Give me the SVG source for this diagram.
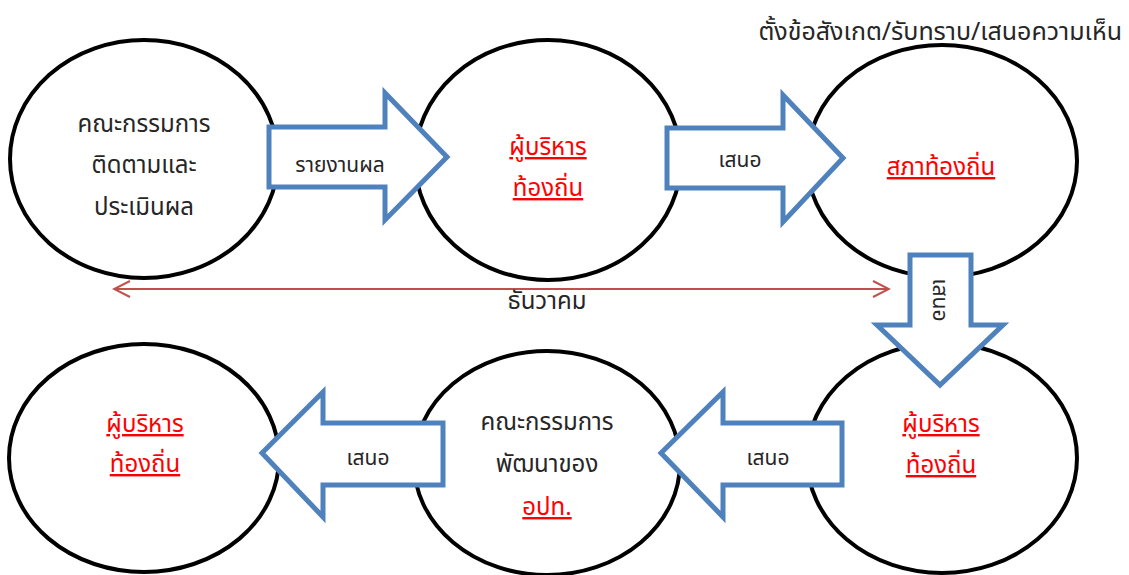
<svg xmlns="http://www.w3.org/2000/svg" width="1129" height="575" viewBox="0 0 1129 575">
<style>
.node ellipse{fill:#fff;stroke:#000;stroke-width:4}
.arrow{fill:#fff;stroke:#4F81BD;stroke-width:5;stroke-linejoin:miter}
text{font-family:"Tahoma","Leelawadee UI","Noto Sans Thai","Noto Sans",sans-serif;text-anchor:middle}
.t{font-size:24px;fill:#262626}
.r{font-size:24px;fill:#FF0000;text-decoration:underline}
.s{font-size:21px;fill:#262626}
</style>
<defs>
<marker id="chev" viewBox="0 0 20 20" refX="18" refY="10" markerWidth="20" markerHeight="20" markerUnits="userSpaceOnUse" orient="auto-start-reverse">
<path d="M2,2 L18,10 L2,18" fill="none" stroke="#C0504D" stroke-width="2"/>
</marker>
</defs>
<rect width="1129" height="575" fill="#fff"/>
<g id="n1" class="node"><ellipse cx="144" cy="159" rx="134" ry="119"/>
<text class="t" x="144" y="132">คณะกรรมการ</text><text class="t" x="144" y="173">ติดตามและ</text><text class="t" x="144" y="215">ประเมินผล</text></g>
<g id="n2" class="node"><ellipse cx="548" cy="160" rx="133" ry="120"/>
<text class="r" x="548" y="155">ผู้บริหาร</text><text class="r" x="548" y="196">ท้องถิ่น</text></g>
<g id="n3" class="node"><ellipse cx="942" cy="161" rx="135" ry="116"/>
<text class="r" x="941" y="175">สภาท้องถิ่น</text></g>
<g id="n4" class="node"><ellipse cx="942" cy="458" rx="135" ry="115"/>
<text class="r" x="941" y="432">ผู้บริหาร</text><text class="r" x="941" y="473">ท้องถิ่น</text></g>
<g id="n5" class="node"><ellipse cx="547" cy="463" rx="133" ry="112"/>
<text class="t" x="547" y="430">คณะกรรมการ</text><text class="t" x="547" y="472">พัฒนาของ</text><text class="r" x="547" y="515">อปท.</text></g>
<g id="n6" class="node"><ellipse cx="144" cy="458" rx="135" ry="114"/>
<text class="r" x="145" y="432">ผู้บริหาร</text><text class="r" x="145" y="472">ท้องถิ่น</text></g>
<text class="t" x="1122" y="40" style="text-anchor:end;font-size:25px">ตั้งข้อสังเกต/รับทราบ/เสนอความเห็น</text>
<g id="connectors">
<path class="arrow" d="M269,127 H385 V93 L447,157 L385,220 V187 H269 Z"/>
<text class="s" x="340" y="172">รายงานผล</text>
<path class="arrow" d="M667,128 H783 V95 L843,158 L783,222 V188 H667 Z"/>
<text class="s" x="740" y="167">เสนอ</text>
<path class="arrow" d="M910,255 H971 V325 H1003 L940,385 L877,325 H910 Z"/>
<text class="s" transform="translate(933,300) rotate(90)" x="0" y="0">เสนอ</text>
<path class="arrow" d="M842,423 H723 V392 L661,453 L723,517 V485 H842 Z"/>
<text class="s" x="768" y="465">เสนอ</text>
<path class="arrow" d="M443,423 H323 V392 L262,453 L323,517 V485 H443 Z"/>
<text class="s" x="368" y="465">เสนอ</text>
<line x1="114" y1="289" x2="889" y2="289" stroke="#C0504D" stroke-width="2" marker-start="url(#chev)" marker-end="url(#chev)"/>
<text class="t" x="547" y="309">ธันวาคม</text>
</g>
</svg>
